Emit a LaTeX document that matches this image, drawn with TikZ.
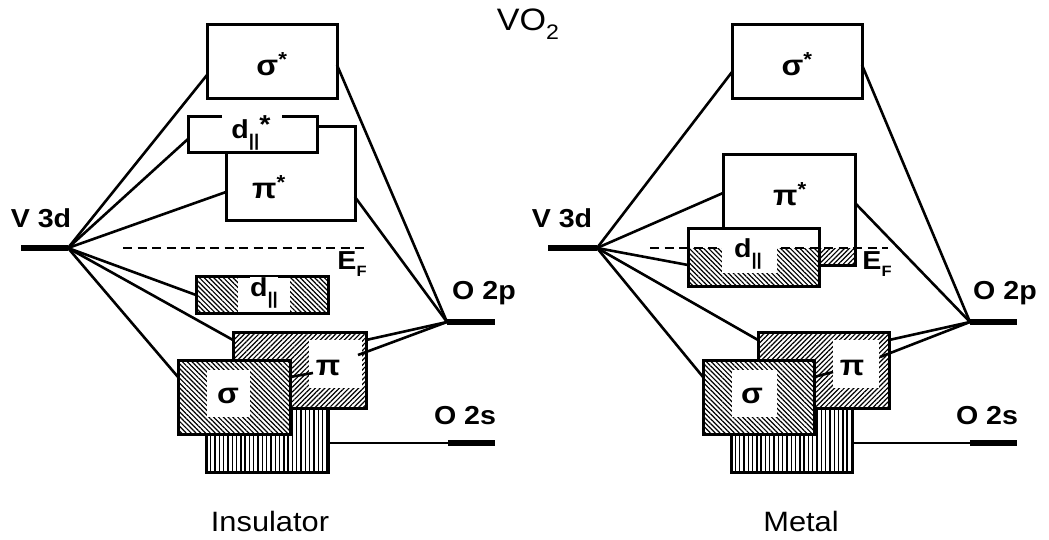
\documentclass[tikz,border=0pt]{standalone}
\usepackage{fontspec}
\setmainfont{Liberation Sans}[FakeStretch=1.1]
\usetikzlibrary{patterns.meta}
\begin{document}
\begin{tikzpicture}[x=1pt,y=-1pt,
  box/.style={rectangle, draw, line width=3pt, fill=white, inner sep=0pt, outer sep=0pt},
  band/.style={rectangle, inner sep=0pt, outer sep=0pt, preaction={fill=white}},
  boxline/.style={line width=3pt, line join=miter},
  conn/.style={line width=2.6pt},
  level/.style={line width=6pt},
  fermi/.style={line width=2.8pt, dash pattern=on 9pt off 5.5pt},
  hatchA/.style={pattern={Lines[angle=-45,distance=3.4pt,line width=1.2pt]}},
  hatchB/.style={pattern={Lines[angle=45,distance=3.4pt,line width=1.2pt]}},
  vhatch/.style={pattern={Lines[angle=90,distance=4.3pt,line width=1.4pt]}},
  lab/.style={font=\fontsize{26}{26}\selectfont\bfseries, inner sep=0pt},
  glab/.style={font=\fontsize{29}{29}\selectfont\bfseries, inner sep=0pt},
  captxt/.style={font=\fontsize{28}{28}\selectfont, inner sep=0pt}
]
\useasboundingbox (0,0) rectangle (1049,540);

\newcommand{\sub}[1]{\raisebox{-0.3em}{\fontsize{15}{15}\selectfont #1}}
\newcommand{\bars}{\raisebox{-0.3em}{\fontsize{17}{17}\selectfont ||}}

% title
\node[inner sep=0pt, font=\fontsize{31}{31}\selectfont] (title) at (528,24) {VO\raisebox{-0.3em}{\fontsize{21}{21}\selectfont 2}};

%%%%%%%%%%%%%%%% INSULATOR %%%%%%%%%%%%%%%%
% O 2s band
\node[band, vhatch, minimum width=122pt, minimum height=77pt] (o2sbL) at (267,433.5) {};
\draw[boxline] (o2sbL.north west) rectangle (o2sbL.south east);
% pi band
\node[band, hatchB, minimum width=133pt, minimum height=76pt] (piL) at (299.5,370) {};
\fill[white] (309,340) rectangle (362,388);
\draw[boxline] (piL.north west) rectangle (piL.south east);
% sigma band
\node[band, hatchA, minimum width=112pt, minimum height=74pt] (sigL) at (234,397) {};
\fill[white] (207,370) rectangle (250,417);
\draw[boxline] (sigL.north west) rectangle (sigL.south east);
% d|| band
\node[band, hatchA, minimum width=132pt, minimum height=37pt] (dL) at (262,294.5) {};
\fill[white] (238,276) rectangle (290,313);
\draw[boxline] (dL.north west) rectangle (dL.south east);
% sigma*, pi*, d||*
\node[box, minimum width=130pt, minimum height=74pt] (sigsL) at (272,62) {};
\node[box, minimum width=129pt, minimum height=93pt] (pisL) at (290.5,173.5) {};
\node[band, minimum width=129pt, minimum height=36pt] (dsL) at (252.5,135) {};
\draw[boxline] ([xshift=34pt]dsL.north west) -| (dsL.south west) -| (dsL.north east) -- ([xshift=-35pt]dsL.north east);

% levels
\coordinate (v3dL) at (68,248);
\coordinate (o2pL) at (447,322);
\coordinate (o2sL) at (448,443);
\draw[level] (21,248) -- (v3dL);
\draw[level] (o2pL) -- (495,322);
\draw[level] (o2sL) -- (495,443);
\draw[fermi] (123,248) -- (365,248);

% connectors
\draw[conn] (v3dL) -- (sigsL.west |- 0,75);
\draw[conn] (v3dL) -- (dsL.west |- 0,139);
\draw[conn] (v3dL) -- (pisL.west |- 0,192);
\draw[conn] (v3dL) -- (dL.west |- 0,295);
\draw[conn] (v3dL) -- (piL.west |- 0,340);
\draw[conn] (v3dL) -- (sigL.west |- 0,377);
\draw[conn] (o2pL) -- (sigsL.east |- 0,65);
\draw[conn] (o2pL) -- (pisL.east |- 0,197);
\draw[conn] (o2pL) -- (piL.east |- 0,340);
\draw[conn] (o2pL) -- (358,355);
\draw[conn] (sigL.east |- 0,377) -- (313,373);
\draw[conn] (o2sbL.east |- 0,443) -- (o2sL);

% labels
\node[lab] (l1) at (41,218) {V 3d};
\node[lab] (l2) at (484,293) {O 2p};
\node[lab] (l3) at (465,416) {O 2s};
\node[lab] (l4) at (352,264) {E\sub{F}};
\node[glab] at (sigsL) [yshift=-2pt] {σ\textsuperscript{*}};
\node[glab] at (269,187) {π\textsuperscript{*}};
\node[lab] at (251,133) {d\bars\raisebox{5pt}{*}};
\node[lab, fill=white, inner sep=0.5pt] at (264,293) {d\bars};
\node[glab] at (328,368) {π};
\node[glab] at (228,396) {σ};
\node[captxt] (insul) at (270,521) {Insulator};

%%%%%%%%%%%%%%%% METAL %%%%%%%%%%%%%%%%
\node[band, vhatch, minimum width=121pt, minimum height=77pt] (o2sbR) at (791.5,433.5) {};
\draw[boxline] (o2sbR.north west) rectangle (o2sbR.south east);
\node[band, hatchB, minimum width=131pt, minimum height=76pt] (piR) at (823.5,370) {};
\fill[white] (833,340) rectangle (879,388);
\draw[boxline] (piR.north west) rectangle (piR.south east);
\node[band, hatchA, minimum width=111pt, minimum height=74pt] (sigR) at (758.5,397) {};
\fill[white] (732,370) rectangle (777,417);
\draw[boxline] (sigR.north west) rectangle (sigR.south east);

\node[box, minimum width=130pt, minimum height=74pt] (sigsR) at (797,62) {};
% pi* with its filled part below E_F
\node[band, minimum width=132pt, minimum height=110pt] (pisR) at (789,210) {};
\fill[hatchB] (819,248) rectangle (855,265);
\draw[boxline] (pisR.north west) rectangle (pisR.south east);
% d|| band partly filled
\node[box, minimum width=131pt, minimum height=58pt] (dR) at (753.5,257) {};
\fill[hatchA] (688,248) rectangle (819,286);
\coordinate (v3dR) at (597,248);
\coordinate (o2pR) at (970,322);
\coordinate (o2sR) at (970,443);
\draw[fermi] (650,248) -- (888,248);
\fill[white] (722,246) rectangle (777,273);
\draw[boxline] (dR.north west) rectangle (dR.south east);

\draw[level] (548,248) -- (v3dR);
\draw[level] (o2pR) -- (1017,322);
\draw[level] (o2sR) -- (1017,443);

\draw[conn] (v3dR) -- (sigsR.west |- 0,72);
\draw[conn] (v3dR) -- (pisR.west |- 0,193);
\draw[conn] (v3dR) -- (dR.west |- 0,265);
\draw[conn] (v3dR) -- (piR.west |- 0,340);
\draw[conn] (v3dR) -- (sigR.west |- 0,377);
\draw[conn] (o2pR) -- (sigsR.east |- 0,65);
\draw[conn] (o2pR) -- (pisR.east |- 0,203);
\draw[conn] (o2pR) -- (piR.east |- 0,340);
\draw[conn] (o2pR) -- (880,357);
\draw[conn] (sigR.east |- 0,377) -- (833,372);
\draw[conn] (o2sbR.east |- 0,443) -- (o2sR);

\node[lab] (r1) at (562,218) {V 3d};
\node[lab] (r2) at (1005,293) {O 2p};
\node[lab] (r3) at (987,416) {O 2s};
\node[lab] (r4) at (877,264) {E\sub{F}};
\node[glab] at (sigsR) [yshift=-2pt] {σ\textsuperscript{*}};
\node[glab] at (790,194) {π\textsuperscript{*}};
\node[lab] at (748,254) {d\bars};
\node[glab] at (852,368) {π};
\node[glab] at (752,396) {σ};
\node[captxt] (metal) at (801,521) {Metal};
\end{tikzpicture}
\end{document}
